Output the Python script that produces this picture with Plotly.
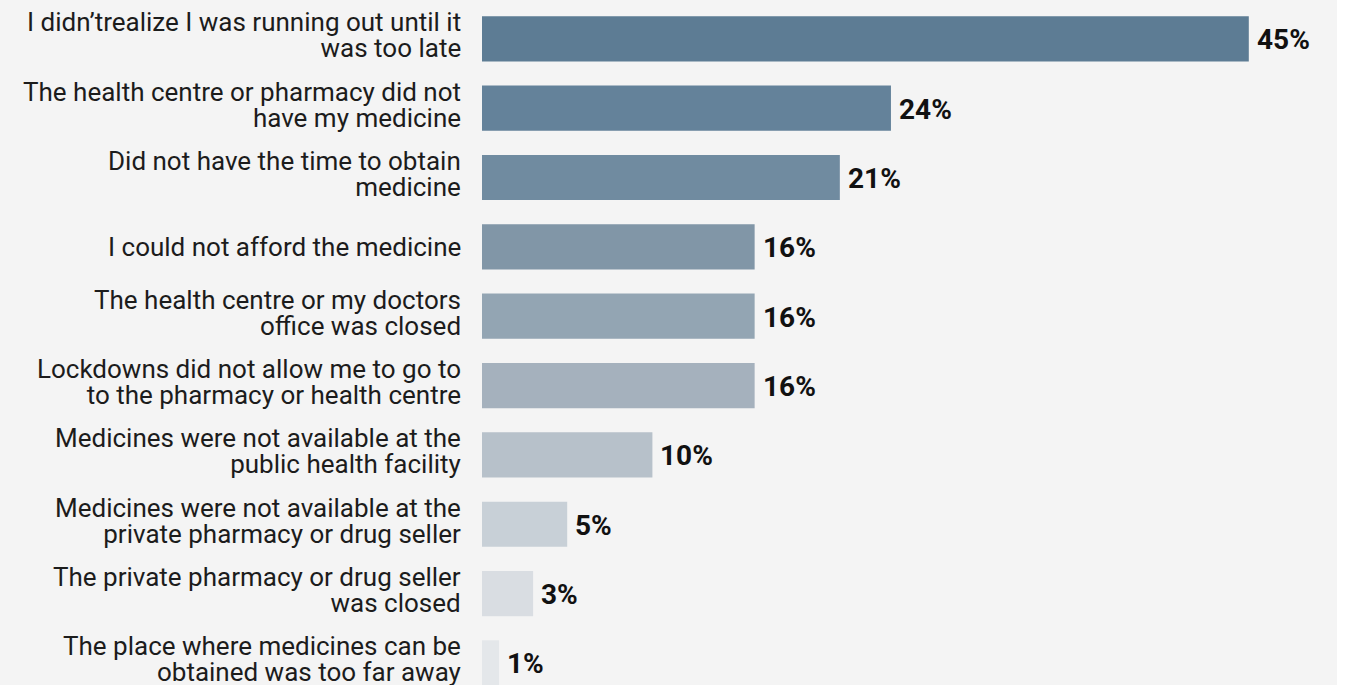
import plotly.graph_objects as go

# Reasons for running out of medicine (share of respondents, %)
reasons = [
    "I didn’trealize I was running out until it<br>was too late",
    "The health centre or pharmacy did not<br>have my medicine",
    "Did not have the time to obtain<br>medicine",
    "I could not afford the medicine",
    "The health centre or my doctors<br>office was closed",
    "Lockdowns did not allow me to go to<br>to the pharmacy or health centre",
    "Medicines were not available at the<br>public health facility",
    "Medicines were not available at the<br>private pharmacy or drug seller",
    "The private pharmacy or drug seller<br>was closed",
    "The place where medicines can be<br>obtained was too far away",
]
shares = [45, 24, 21, 16, 16, 16, 10, 5, 3, 1]
bar_colors = [
    "#5d7c94", "#64829a", "#708ba0", "#8196a7", "#93a5b3",
    "#a5b1bd", "#b7c1ca", "#c8d0d7", "#d9dde2", "#e4e7ea",
]

W, H = 1337, 685
LEFT = 482
PX_PER_UNIT = 17.04
plot_w = W - LEFT

FAMILY = "Roboto, Liberation Sans, sans-serif"
LABEL_SIZE = 26
# line pitch of wrapped labels is 1.3 x the base size -> 26px
BASE_SIZE = 20

positions = list(range(len(reasons)))

fig = go.Figure(
    go.Bar(
        x=shares,
        y=positions,
        orientation="h",
        marker=dict(color=bar_colors, line=dict(width=0)),
        width=0.652,
        hoverinfo="skip",
    )
)

annotations = []
for pos, text in zip(positions, reasons):
    lines = text.split("<br>")
    if len(lines) == 1:
        size, shift = LABEL_SIZE, 0
        body = text
    else:
        size, shift = BASE_SIZE, 3.5
        body = "<br>".join(
            f"<span style='font-size:{LABEL_SIZE}px'>{ln}</span>" for ln in lines
        )
    annotations.append(dict(
        x=-19 / plot_w, xref="paper", xanchor="right", align="right",
        y=pos, yref="y", yanchor="middle", yshift=shift,
        text=body, showarrow=False,
        font=dict(family=FAMILY, size=size, color="#1c1c1c"),
    ))

for pos, val in zip(positions, shares):
    annotations.append(dict(
        x=val, xref="x", xanchor="left", xshift=6,
        y=pos, yref="y", yanchor="middle", yshift=-1,
        text=f"<b>{val}%</b>", showarrow=False,
        font=dict(family=FAMILY, size=28, color="#111111"),
    ))

fig.update_layout(
    width=W, height=H,
    margin=dict(l=LEFT, r=0, t=0, b=0),
    paper_bgcolor="#f4f4f4",
    plot_bgcolor="#f4f4f4",
    showlegend=False,
    bargap=0.348,
    annotations=annotations,
    xaxis=dict(range=[0, plot_w / PX_PER_UNIT], visible=False, fixedrange=True),
    yaxis=dict(range=[9.318, -0.5595], visible=False, fixedrange=True),
)

fig.write_html("out.html", config={"displayModeBar": False})
